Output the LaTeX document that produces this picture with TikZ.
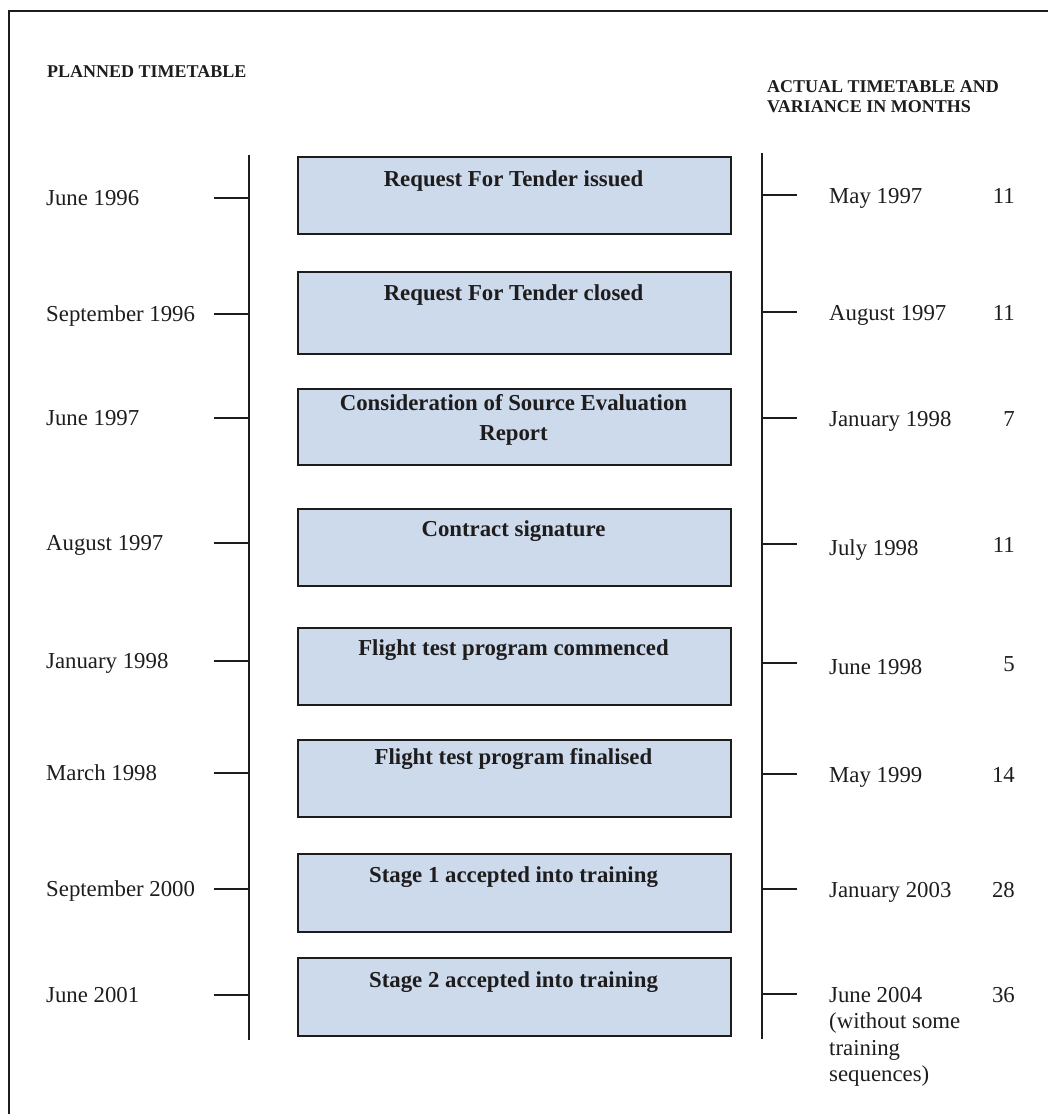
\documentclass[tikz,border=0pt]{standalone}
\usepackage{fontspec}
\setmainfont{Liberation Serif}
\definecolor{boxfill}{RGB}{204,218,236}
\definecolor{ink}{RGB}{30,28,28}
\begin{document}
\begin{tikzpicture}[x=1pt,y=-1pt,
  event/.style={draw=ink, fill=boxfill, line width=1.5pt, minimum width=433pt, minimum height=77pt, inner sep=0pt, anchor=north west},
  evtext/.style={inner sep=0pt, anchor=base, text=ink, font=\fontsize{22.8}{30}\selectfont\bfseries},
  lbl/.style={inner sep=0pt, anchor=base west, text=ink, font=\fontsize{22.8}{26.5}\selectfont},
  num/.style={inner sep=0pt, anchor=base east, text=ink, font=\fontsize{22.8}{26.5}\selectfont},
  head/.style={inner sep=0pt, anchor=base west, text=ink, font=\fontsize{18}{20.5}\selectfont\bfseries},
  axis/.style={draw=ink, line width=1.5pt},
  tick/.style={draw=ink, line width=1.8pt},
  frame/.style={draw=ink, line width=2pt}]
\clip (0,0) rectangle (1048,1114);
\useasboundingbox (0,0) rectangle (1048,1114);
% frame (runs off the right and bottom edges)
\coordinate (fa) at (9,11);
\coordinate (fb) at (1070,1140);
\draw[frame] (fa) rectangle (fb);
% headers
\node[head] (h1) at (47,77) {PLANNED TIMETABLE};
\node[head] (h2) at (767,92) {\parbox[t]{260pt}{\raggedright ACTUAL TIMETABLE AND\\VARIANCE IN MONTHS}};
% axes
\coordinate (ltop) at (249,155);
\coordinate (lbot) at (249,1040);
\coordinate (rtop) at (762,153);
\coordinate (rbot) at (762,1039);
\draw[axis] (ltop) -- (lbot);
\draw[axis] (rtop) -- (rbot);
% boxes
\node[event] (b1) at (297,156) {};
\node[event, minimum height=82pt] (b2) at (297,271) {};
\node[event, minimum height=76pt] (b3) at (297,388) {};
\node[event] (b4) at (297,508) {};
\node[event] (b5) at (297,627) {};
\node[event] (b6) at (297,739) {};
\node[event, minimum height=78pt] (b7) at (297,853) {};
\node[event, minimum height=78pt] (b8) at (297,957) {};
\node[evtext] (t1) at (513.5,186) {Request For Tender issued};
\node[evtext] (t2) at (513.5,300) {Request For Tender closed};
\node[evtext] (t3) at (513.5,410) {\parbox[t]{420pt}{\centering Consideration of Source Evaluation\\Report}};
\node[evtext] (t4) at (513.5,536) {Contract signature};
\node[evtext] (t5) at (513.5,655) {Flight test program commenced};
\node[evtext] (t6) at (513.5,764) {Flight test program finalised};
\node[evtext] (t7) at (513.5,882) {Stage 1 accepted into training};
\node[evtext] (t8) at (513.5,987) {Stage 2 accepted into training};
% left side
\foreach \i/\y/\txt in {1/198/June 1996, 2/314/September 1996, 3/418/June 1997, 4/543/August 1997, 5/661/January 1998, 6/773/March 1998, 7/889/September 2000, 8/995/June 2001}{
  \coordinate (lt\i) at (214,\y);
  \draw[tick] (lt\i) -- (lt\i -| ltop);
  \node[lbl] (p\i) at (46,\y+7) {\txt};
}
% right side
\foreach \i/\y/\txt/\n in {1/195/May 1997/11, 2/312/August 1997/11, 3/418/January 1998/7, 4/544/July 1998/11, 5/663/June 1998/5, 6/774/May 1999/14, 7/889/January 2003/28, 8/994/June 2004/36}{
  \coordinate (rt\i) at (797,\y);
  \draw[tick] (rt\i -| rtop) -- (rt\i);
  \node[num] (v\i) at (1015,\y+8) {\n};
}
\node[lbl] (a1) at (829,203) {May 1997};
\node[lbl] (a2) at (829,320) {August 1997};
\node[lbl] (a3) at (829,426) {January 1998};
\node[lbl] (a4) at (829,555) {July 1998};
\node[lbl] (a5) at (829,674) {June 1998};
\node[lbl] (a6) at (829,782) {May 1999};
\node[lbl] (a7) at (829,897) {January 2003};
\node[lbl] (a8) at (829,1002) {\parbox[t]{200pt}{\raggedright June 2004\\(without some\\training\\sequences)}};
\end{tikzpicture}
\end{document}
